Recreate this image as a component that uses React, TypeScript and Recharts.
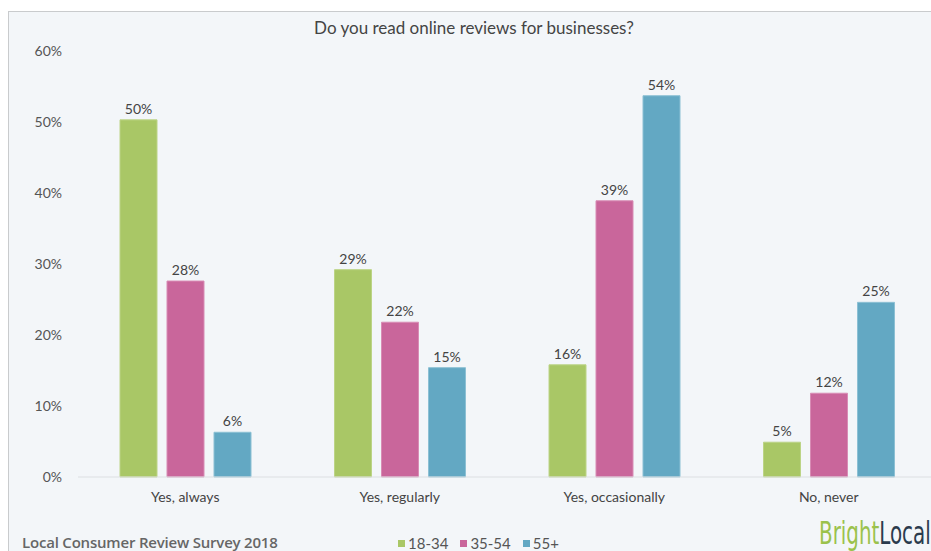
import { BarChart, Bar, XAxis, YAxis, LabelList } from "recharts";

const categories = ["Yes, always", "Yes, regularly", "Yes, occasionally", "No, never"];
const age1834 = [50.3, 29.2, 15.8, 4.9];
const age3554 = [27.6, 21.8, 38.9, 11.8];
const age55 = [6.3, 15.4, 53.7, 24.6];
const yTicks = [0, 10, 20, 30, 40, 50, 60];

const series = [
  { key: "a", name: "18-34", fill: "#a9c766", stroke: "#bcd486" },
  { key: "b", name: "35-54", fill: "#c9669b", stroke: "#d88cb5" },
  { key: "c", name: "55+", fill: "#63a8c3", stroke: "#8cc0d4" },
];

const data = categories.map((name, i) => ({
  name,
  a: age1834[i],
  b: age3554[i],
  c: age55[i],
}));

const FONT = "Lato, 'Open Sans', sans-serif";
const pct = (v: any) => `${Math.round(Number(v))}%`;

export default function App() {
  return (
    <div style={{ position: "absolute", left: 0, top: 0, width: 931, height: 551, overflow: "hidden", background: "#fff", fontFamily: FONT }}>
      <div style={{ position: "absolute", left: 8, top: 11, width: 960, height: 580, background: "#f3f6f9", border: "1px solid #c9cbcd" }} />
      <div style={{ position: "absolute", left: 0, top: 17, width: 948, textAlign: "center", fontSize: 17, color: "#444" }}>
        Do you read online reviews for businesses?
      </div>
      <div style={{ position: "absolute", left: 22, top: 534, lineHeight: "16px", fontSize: 15, fontWeight: 600, color: "#666", fontFamily: "'Open Sans', sans-serif", letterSpacing: -0.2, whiteSpace: "nowrap" }}>
        Local Consumer Review Survey 2018
      </div>
      <div style={{ position: "absolute", left: 398, top: 535, lineHeight: "16px", fontSize: 15, color: "#555", display: "flex", alignItems: "center", whiteSpace: "nowrap" }}>
        {series.map((s) => (
          <span key={s.key} style={{ display: "flex", alignItems: "center", marginRight: 12 }}>
            <span style={{ display: "inline-block", width: 7, height: 7, background: s.fill, marginRight: 3 }} />
            {s.name}
          </span>
        ))}
      </div>
      <div style={{ position: "absolute", left: 819, top: 516, lineHeight: "34px", fontSize: 32, fontFamily: "'DejaVu Sans Condensed', 'Liberation Sans Narrow', sans-serif", transform: "scaleX(0.69)", transformOrigin: "left top", whiteSpace: "nowrap" }}>
        <span style={{ color: "#9bc24c" }}>Bright</span>
        <span style={{ color: "#2b3b4d" }}>Local</span>
      </div>
      <div style={{ position: "absolute", left: 0, top: 0 }}>
        <BarChart width={940} height={551} data={data} margin={{ top: 51, right: 4, bottom: 44, left: 0 }} barSize={37} barGap={10}>
          <XAxis
            dataKey="name"
            axisLine={{ stroke: "#dcdfe2" }}
            tickLine={false}
            tickMargin={9}
            height={30}
            tick={{ fill: "#444", fontSize: 14, fontFamily: FONT }}
          />
          <YAxis
            domain={[0, 60]}
            ticks={yTicks}
            tickFormatter={(v) => `${v}%`}
            axisLine={false}
            tickLine={false}
            tickSize={0}
            tickMargin={16}
            width={78}
            tick={{ fill: "#555", fontSize: 14, fontFamily: FONT }}
          />
          {series.map((s) => (
            <Bar key={s.key} dataKey={s.key} name={s.name} fill={s.fill} stroke={s.stroke} isAnimationActive={false}>
              <LabelList dataKey={s.key} position="top" offset={6} formatter={pct} fill="#444" fontSize={14} fontFamily={FONT} />
            </Bar>
          ))}
        </BarChart>
      </div>
    </div>
  );
}
